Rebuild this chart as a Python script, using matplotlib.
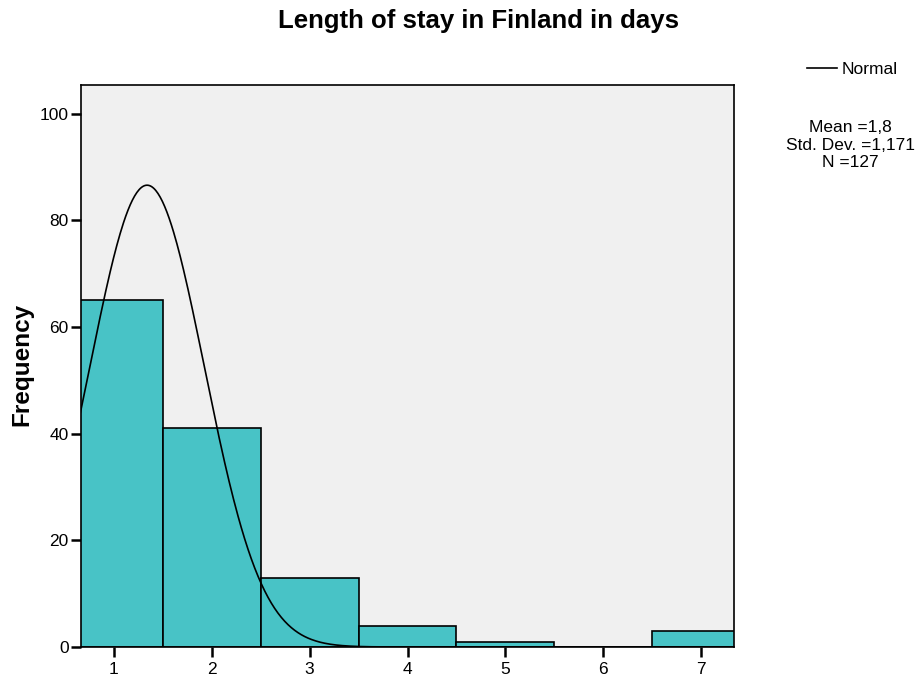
import numpy as np
import matplotlib
matplotlib.use("Agg")
import matplotlib.pyplot as plt

# Histogram data: length of stay (days) and counts per bin
days = [1, 2, 3, 4, 5, 6, 7]
counts = [65, 41, 13, 4, 1, 0, 3]
y_ticks = [0, 20, 40, 60, 80, 100]

# Normal curve overlay parameters (as drawn on the axis)
curve_mean = 1.34
curve_sd = 0.585
n_total = sum(counts)

stats_text = "Mean =1,8\nStd. Dev. =1,171\nN =127"

plt.rcParams['font.family'] = ['Liberation Sans', 'DejaVu Sans']

fig = plt.figure(figsize=(9.19, 6.79), dpi=100)
ax = fig.add_axes([81 / 919, 1 - 647 / 679, (734 - 81) / 919, (647 - 85) / 679])
ax.set_facecolor('#F0F0F0')

ax.bar(days, counts, width=1.0, color='#48C3C6', edgecolor='black', linewidth=1.2, zorder=2)

xs = np.linspace(0.6, 7.4, 600)
ys = n_total * 1.0 / (curve_sd * np.sqrt(2 * np.pi)) * np.exp(-0.5 * ((xs - curve_mean) / curve_sd) ** 2)
ax.plot(xs, ys, color='black', linewidth=1.2, zorder=3)

ax.set_xlim(0.665, 7.335)
ax.set_ylim(0, 105.4)
ax.set_xticks(days)
ax.set_yticks(y_ticks)
ax.tick_params(axis='both', direction='out', length=7, width=1.8, labelsize=12.5, color='black', pad=2)
ax.tick_params(axis='x', pad=4)
for s in ax.spines.values():
    s.set_linewidth(1.2)
    s.set_color('black')

ax.set_ylabel('Frequency', fontsize=17.5, fontweight='bold')
ax.yaxis.set_label_coords(-0.073, 0.502)
fig.text(479 / 919, 1 - 21 / 679, 'Length of stay in Finland in days', ha='center', va='center',
         fontsize=18.5, fontweight='bold')

# Legend entry for the normal curve
fig.add_artist(plt.Line2D([807 / 919, 837 / 919], [1 - 68 / 679, 1 - 68 / 679], color='black', linewidth=1.2))
fig.text(842 / 919, 1 - 69 / 679, 'Normal', ha='left', va='center', fontsize=12.5)
fig.text(850 / 919, 1 - 145 / 679, stats_text, ha='center', va='center', fontsize=12.5, linespacing=1.2)

fig.savefig('out.png', dpi=100, facecolor='white')
